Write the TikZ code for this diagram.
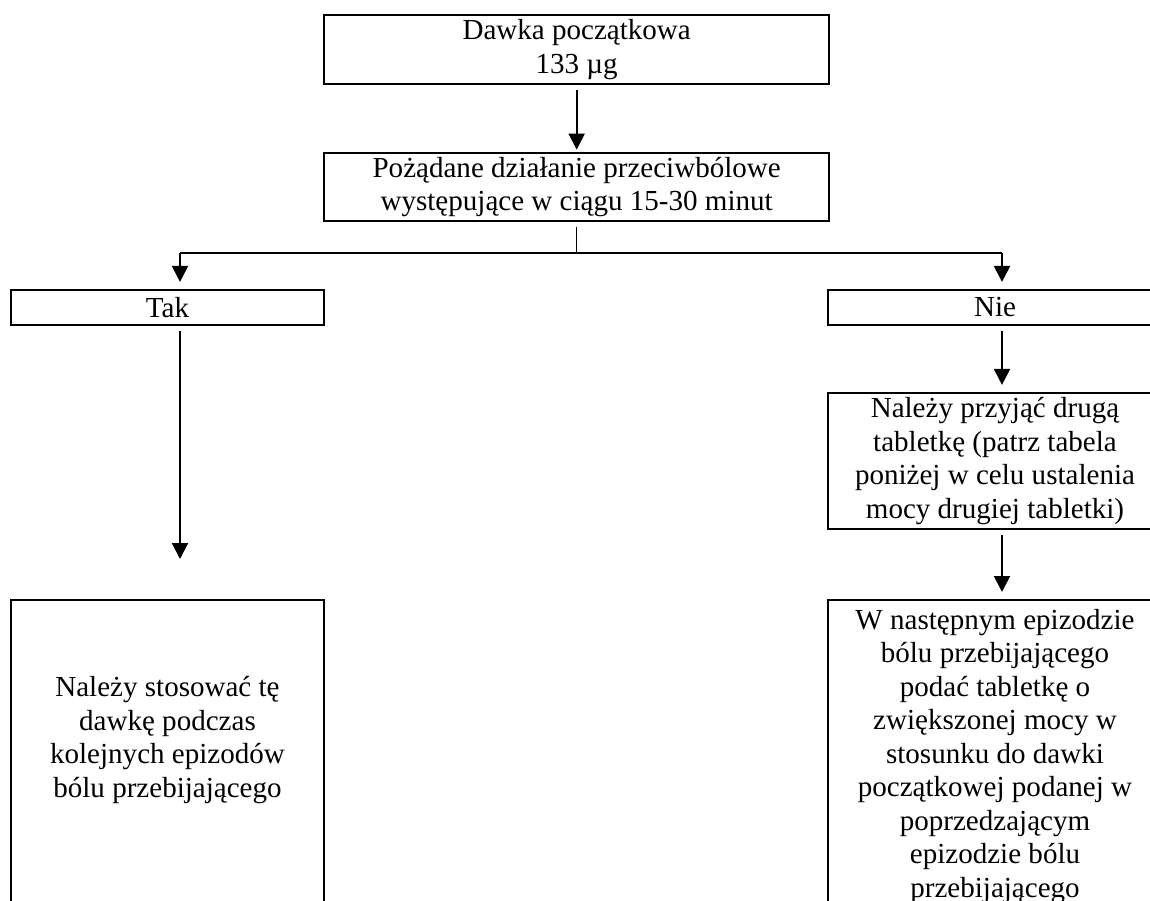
\documentclass[tikz,border=0pt]{standalone}
\usepackage{fontspec}
\setmainfont{Liberation Serif}
\usetikzlibrary{arrows.meta}
\usetikzlibrary{positioning}

\tikzset{
  krok/.style={rectangle,draw,line width=0.9pt,align=center,inner sep=0pt,font=\fontsize{12.4}{14.3}\selectfont},
  tekst/.style={align=center,inner sep=0pt,outer sep=0pt,font=\fontsize{12.4}{14.3}\selectfont},
  strzalka/.style={-{Triangle[length=6.8pt,width=6.8pt]},line width=0.9pt,shorten <=2pt,shorten >=3pt}
}

\begin{document}
\begin{tikzpicture}
\useasboundingbox (0,0) rectangle (17.25,13.5);
\clip (0,0) rectangle (17.25,13.5);

\node[krok,minimum width=7.575cm,minimum height=1.035cm] (dawka) at (8.65,12.76){Dawka początkowa\\133 µg};

\node[krok,minimum width=7.575cm,minimum height=1.02cm] (dzialanie) at (8.65,10.695){Pożądane działanie przeciwbólowe\\występujące w ciągu 15-30 minut};

\node[krok,minimum width=4.695cm,minimum height=0.525cm] (tak) at (2.5125,8.8875){Tak};
\node[krok,minimum width=5.01cm,minimum height=0.525cm] (nie) at (14.925,8.8875){Nie};

\node[krok,minimum width=5.01cm,minimum height=2.04cm] (przyjac) at (14.925,6.585){Należy przyjąć drugą\\tabletkę (patrz tabela\\poniżej w celu ustalenia\\mocy drugiej tabletki)};

\node[krok,anchor=north,minimum width=4.695cm,minimum height=6cm] (stosuj) at (2.5125,4.515){};
\node[krok,anchor=north,minimum width=5.01cm,minimum height=6cm] (epizod) at (14.925,4.515){};
\node[tekst,below=33pt of stosuj.north] (stosujtekst){Należy stosować tę\\dawkę podczas\\kolejnych epizodów\\bólu przebijającego};
\node[tekst,below=4.3pt of epizod.north] (epizodtekst){W następnym epizodzie\\bólu przebijającego\\podać tabletkę o\\zwiększonej mocy w\\stosunku do dawki\\początkowej podanej w\\poprzedzającym\\epizodzie bólu\\przebijającego};

\coordinate (lewa) at (2.7,9.705);
\coordinate (prawa) at (15.03,9.705);
\coordinate (rozwidlenie) at (dzialanie.south |- lewa);
\coordinate (takkoniec) at (2.7,5.115);

\draw[strzalka,shorten >=1pt] (dawka) -- (dzialanie);
\draw[thin,shorten <=2pt] (dzialanie) -- (rozwidlenie);
\draw[semithick] (lewa) -- (prawa);
\draw[strzalka,shorten <=0pt] (lewa) -- (tak.north -| lewa);
\draw[strzalka,shorten <=0pt] (prawa) -- (nie.north -| prawa);
\draw[strzalka,shorten >=0pt] (tak.south -| lewa) -- (takkoniec);
\draw[strzalka] (nie.south -| prawa) -- (przyjac.north -| prawa);
\draw[strzalka] (przyjac.south -| prawa) -- (epizod.north -| prawa);

\end{tikzpicture}
\end{document}
